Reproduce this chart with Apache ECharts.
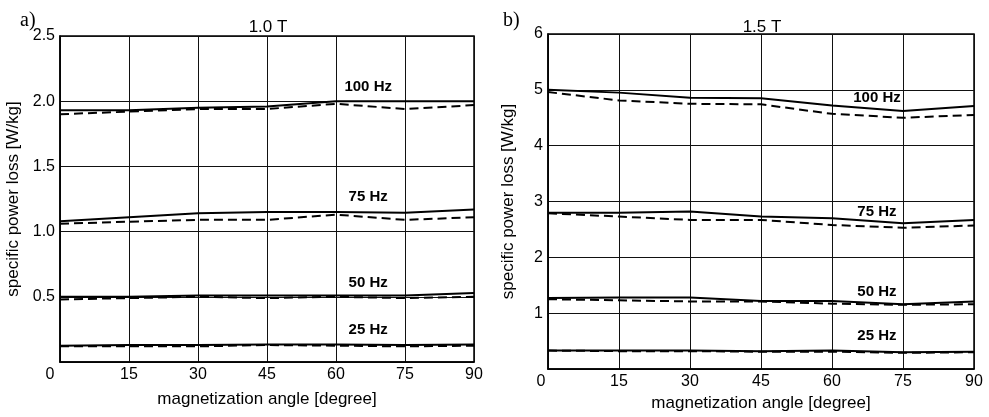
<!DOCTYPE html>
<html><head><meta charset="utf-8">
<script src="https://cdn.jsdelivr.net/npm/echarts@6/dist/echarts.min.js"></script>
<style>html,body{margin:0;padding:0;background:#fff}#c{width:989px;height:417px}</style>
</head><body><div id="c"></div>
<script>
// magnetization angle [degree]
const angles = [0, 15, 30, 45, 60, 75, 90];
const freqs = ['25 Hz', '50 Hz', '75 Hz', '100 Hz'];

// 1.0 T : solid and dashed curves
const t10_25_solid  = [0.125, 0.13, 0.13, 0.135, 0.135, 0.13, 0.135];
const t10_25_dashed = [0.12, 0.12, 0.12, 0.13, 0.125, 0.12, 0.125];
const t10_50_solid  = [0.50, 0.50, 0.51, 0.51, 0.51, 0.51, 0.53];
const t10_50_dashed = [0.48, 0.49, 0.50, 0.49, 0.50, 0.49, 0.50];
const t10_75_solid  = [1.08, 1.11, 1.14, 1.15, 1.15, 1.145, 1.17];
const t10_75_dashed = [1.06, 1.076, 1.09, 1.09, 1.13, 1.09, 1.11];
const t10_100_solid  = [1.93, 1.93, 1.95, 1.96, 2.00, 2.00, 2.00];
const t10_100_dashed = [1.90, 1.92, 1.94, 1.94, 1.98, 1.94, 1.97];

// 1.5 T : solid and dashed curves
const t15_25_solid  = [0.33, 0.33, 0.33, 0.32, 0.33, 0.30, 0.31];
const t15_25_dashed = [0.33, 0.32, 0.32, 0.31, 0.31, 0.29, 0.30];
const t15_50_solid  = [1.27, 1.28, 1.28, 1.22, 1.22, 1.16, 1.21];
const t15_50_dashed = [1.25, 1.23, 1.21, 1.21, 1.17, 1.15, 1.16];
const t15_75_solid  = [2.80, 2.80, 2.82, 2.73, 2.70, 2.61, 2.67];
const t15_75_dashed = [2.79, 2.73, 2.67, 2.67, 2.58, 2.53, 2.57];
const t15_100_solid  = [5.00, 4.95, 4.86, 4.85, 4.72, 4.62, 4.71];
const t15_100_dashed = [4.96, 4.81, 4.75, 4.74, 4.57, 4.50, 4.55];

// annotation anchors (data space) for frequency labels
const labelAngle10 = 67, labelAngle15 = 69.5;
const labelValues10 = [0.245, 0.61, 1.265, 2.11];
const labelValues15 = [0.60, 1.38, 2.82, 4.85];

const xTicks = [0, 15, 30, 45, 60, 75, 90];

const font = 'Liberation Sans, Arial, sans-serif';
const chart = echarts.init(document.getElementById('c'), null, {renderer: 'canvas'});

function pairs(vals) { return angles.map((a, i) => [a, vals[i]]); }

function lineSeries(idx, vals, dashed) {
  return {
    type: 'line', xAxisIndex: idx, yAxisIndex: idx, data: pairs(vals),
    symbol: 'none', silent: true, animation: false,
    lineStyle: {color: '#000', width: 2, type: dashed ? [9, 5] : 'solid'}
  };
}
function labelSeries(idx, ang, vals) {
  return {
    type: 'scatter', xAxisIndex: idx, yAxisIndex: idx, symbolSize: 0, silent: true, animation: false,
    itemStyle: {opacity: 1, color: '#000'},
    data: vals.map((v, i) => ({value: [ang, v], name: freqs[i]})),
    label: {show: true, position: 'inside', formatter: p => p.name, opacity: 1,
      fontFamily: font, fontWeight: 'bold', fontSize: 15, color: '#000', textBorderWidth: 0}
  };
}

function xAxis(idx, shift) {
  return {
    type: 'value', gridIndex: idx, min: 0, max: 90, interval: 15,
    name: 'magnetization angle [degree]', nameLocation: 'middle', nameGap: idx === 0 ? 29 : 26,
    nameTextStyle: {fontFamily: font, fontSize: 17, color: '#000'},
    axisLine: {show: true, lineStyle: {color: '#000', width: 1.5}},
    axisTick: {show: false},
    axisLabel: {fontFamily: font, fontSize: 16, color: '#000', margin: 5,
      formatter: v => v === 0 ? '{z|0}' : String(v),
      rich: {z: {fontFamily: font, fontSize: 16, color: '#000', padding: [0, shift, 0, 0]}}},
    splitLine: {show: true, lineStyle: {color: '#111', width: 1}}
  };
}
function yAxis(idx, max, interval, gap, fmt) {
  return {
    type: 'value', gridIndex: idx, min: 0, max: max, interval: interval,
    name: 'specific power loss [W/kg]', nameLocation: 'middle', nameGap: gap,
    nameTextStyle: {fontFamily: font, fontSize: 17, color: '#000'},
    axisLine: {show: true, lineStyle: {color: '#000', width: 1.5}},
    axisTick: {show: false},
    axisLabel: {fontFamily: font, fontSize: 16, color: '#000', margin: 5, showMinLabel: false, formatter: fmt},
    splitLine: {show: true, lineStyle: {color: '#111', width: 1}}
  };
}

const series = [
  lineSeries(0, t10_25_solid, false), lineSeries(0, t10_25_dashed, true),
  lineSeries(0, t10_50_solid, false), lineSeries(0, t10_50_dashed, true),
  lineSeries(0, t10_75_solid, false), lineSeries(0, t10_75_dashed, true),
  lineSeries(0, t10_100_solid, false), lineSeries(0, t10_100_dashed, true),
  lineSeries(1, t15_25_solid, false), lineSeries(1, t15_25_dashed, true),
  lineSeries(1, t15_50_solid, false), lineSeries(1, t15_50_dashed, true),
  lineSeries(1, t15_75_solid, false), lineSeries(1, t15_75_dashed, true),
  lineSeries(1, t15_100_solid, false), lineSeries(1, t15_100_dashed, true),
  labelSeries(0, labelAngle10, labelValues10),
  labelSeries(1, labelAngle15, labelValues15)
];

chart.setOption({
  backgroundColor: '#fff',
  animation: false,
  title: [
    {text: '1.0 T', left: 263, top: 14, textAlign: 'center', textStyle: {fontFamily: font, fontSize: 17, fontWeight: 'normal', color: '#000'}},
    {text: '1.5 T', left: 757, top: 14, textAlign: 'center', textStyle: {fontFamily: font, fontSize: 17, fontWeight: 'normal', color: '#000'}},
    {text: 'a)', left: 15, top: 6, textStyle: {fontFamily: 'Liberation Serif, Times New Roman, serif', fontSize: 20, fontWeight: 'normal', color: '#000'}},
    {text: 'b)', left: 498, top: 6, textStyle: {fontFamily: 'Liberation Serif, Times New Roman, serif', fontSize: 20, fontWeight: 'normal', color: '#000'}}
  ],
  grid: [
    {left: 60, right: 515, top: 36, bottom: 55, show: true, borderColor: '#000', borderWidth: 1.5},
    {left: 548, right: 15, top: 34, bottom: 45, show: true, borderColor: '#000', borderWidth: 1.5}
  ],
  xAxis: [xAxis(0, 20), xAxis(1, 14)],
  yAxis: [
    yAxis(0, 2.5, 0.5, 38, v => v.toFixed(1)),
    yAxis(1, 6, 1, 31, v => String(v))
  ],
  series: series
});
</script>
</body></html>
